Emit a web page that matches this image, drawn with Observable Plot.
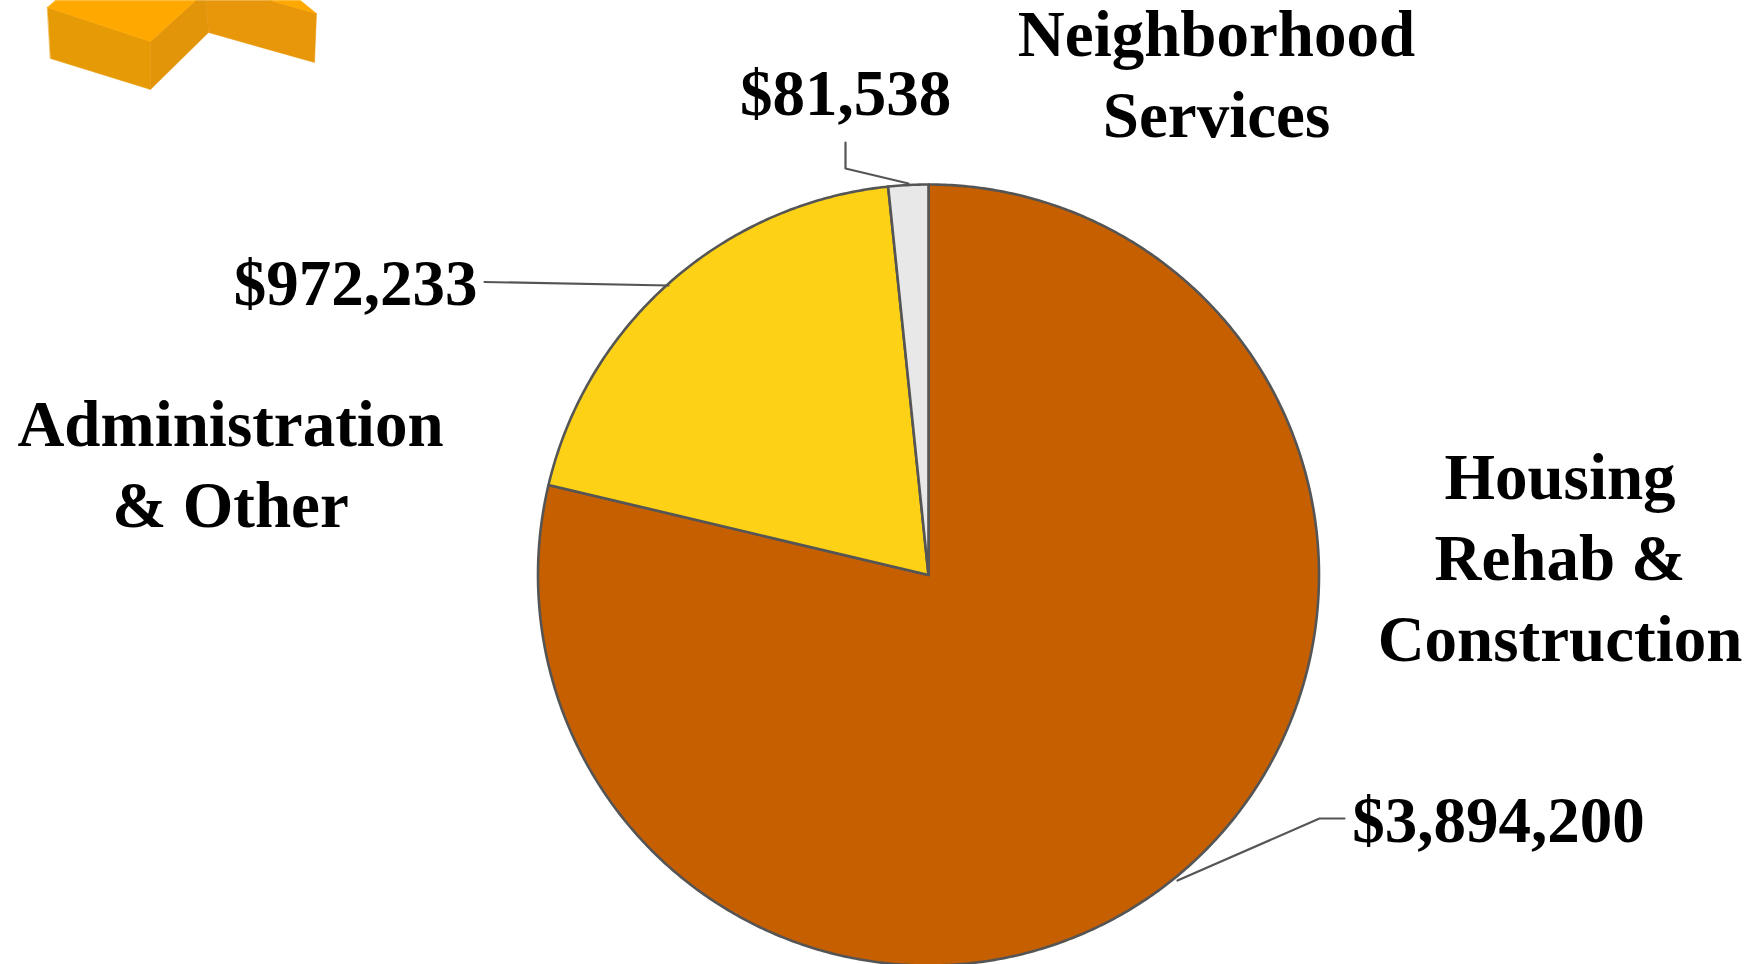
<!DOCTYPE html>
<html>
<head>
<meta charset="utf-8">
<script src="https://cdn.jsdelivr.net/npm/d3@7"></script>
<script src="https://cdn.jsdelivr.net/npm/@observablehq/plot@0.6"></script>
<style>html,body{margin:0;padding:0;background:#fff;overflow:hidden}svg{display:block}</style>
</head>
<body>
<div id="chart"></div>
<script>
// Data, in the clockwise order the slices are drawn from twelve o'clock
const categories = ["Housing\nRehab &\nConstruction", "Administration\n& Other", "Neighborhood\nServices"];
const amounts = [3894200, 972233, 81538];
const amountLabels = ["$3,894,200", "$972,233", "$81,538"];
const sliceColors = ["#C55F00", "#FDD216", "#E8E8E8"];

// Layout, in pixels of the 1758x964 picture
const W = 1758, H = 964, CX = 928, CY = 574.5, R = 390.5;
const categoryAt = [[1559.5, 553.5], [230, 460], [1216, 70.5]];
const amountAt = [[1498, 821], [355, 284], [845, 94]];
const leaders = [
  [[1344, 818], [1319, 818], [1177, 880]],
  [[484, 281.5], [668, 285]],
  [[845, 142], [845, 168], [908, 183]]
];
const logoFaces = [
  {color: "#E8970A", pts: [[205, 0], [270, 0], [316, 13], [314, 62], [208, 32]]},
  {color: "#FFA800", pts: [[270, 0], [300, 0], [316, 13]]},
  {color: "#E69A06", pts: [[47, 7], [150, 41], [150, 89], [50, 58]]},
  {color: "#E3950A", pts: [[150, 41], [195, 0], [205, 0], [208, 32], [150, 89]]},
  {color: "#FFA800", pts: [[55, 0], [195, 0], [150, 41], [47, 7]]}
];

const total = d3.sum(amounts);
let acc = 0;
const sliceRows = amounts.flatMap((v, i) => {
  const a0 = acc / total * 2 * Math.PI;
  acc += v;
  const a1 = acc / total * 2 * Math.PI;
  const n = Math.max(2, Math.ceil((a1 - a0) * 120));
  const rows = [{i, x: CX, y: CY}];
  for (let k = 0; k <= n; k++) {
    const a = a0 + (a1 - a0) * k / n;
    rows.push({i, x: CX + R * Math.sin(a), y: CY - R * Math.cos(a)});
  }
  return rows;
});
const logoRows = logoFaces.flatMap((f, i) => f.pts.map(([x, y]) => ({i, x, y, color: f.color})));
const leaderRows = leaders.flatMap((l, i) => l.map(([x, y]) => ({i, x, y})));
const categoryRows = categories.map((t, i) => ({t, x: categoryAt[i][0], y: categoryAt[i][1]}));
const amountRows = amountLabels.map((t, i) => ({t, x: amountAt[i][0], y: amountAt[i][1]}));
const textStyle = {
  x: "x", y: "y", text: "t", textAnchor: "middle", lineAnchor: "middle",
  fontFamily: "'Liberation Serif', serif", fontWeight: "bold", fontSize: 65, fill: "#000"
};

const chart = Plot.plot({
  width: W, height: H,
  margin: 0,
  x: {domain: [0, W], range: [0, W], axis: null},
  y: {domain: [0, H], range: [0, H], axis: null},
  style: {background: "#fff"},
  marks: [
    Plot.line(logoRows, {x: "x", y: "y", z: "i", fill: "color", stroke: "color", strokeWidth: 0.5, curve: "linear-closed"}),
    Plot.line(sliceRows, {x: "x", y: "y", z: "i", fill: d => sliceColors[d.i], stroke: "#555555", strokeWidth: 2.6, curve: "linear-closed", strokeLinejoin: "round"}),
    Plot.line(leaderRows, {x: "x", y: "y", z: "i", stroke: "#555555", strokeWidth: 2.2, curve: "linear"}),
    Plot.text(categoryRows, {...textStyle, lineHeight: 1.246}),
    Plot.text(amountRows, textStyle)
  ]
});
document.getElementById("chart").append(chart);
</script>
</body>
</html>
